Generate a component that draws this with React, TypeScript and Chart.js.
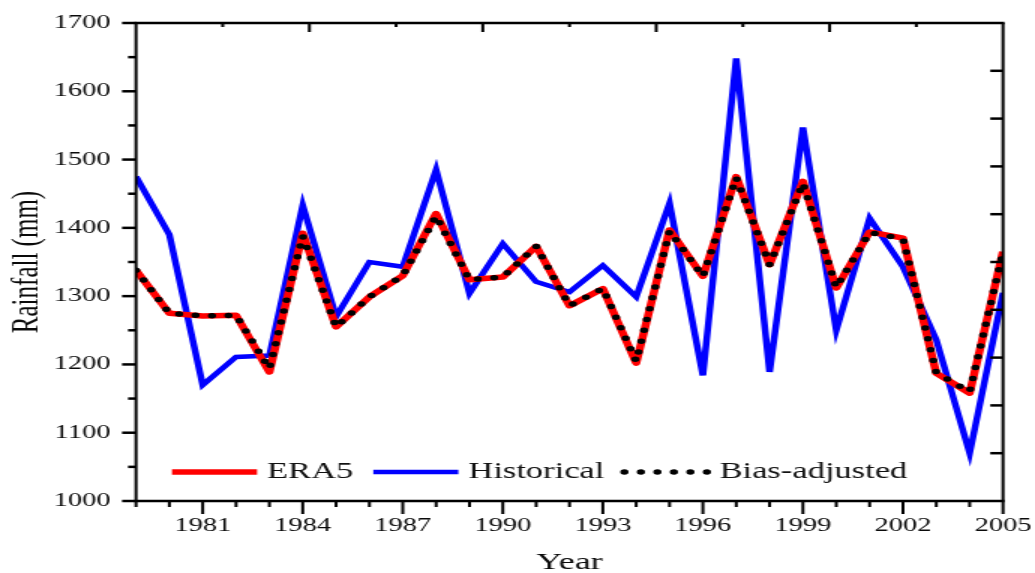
import React, { useEffect, useRef } from 'react';
import { Chart, registerables } from 'chart.js';

Chart.register(...registerables);

// ---------- data ----------
const years = [
  1979, 1980, 1981, 1982, 1983, 1984, 1985, 1986, 1987, 1988, 1989, 1990, 1991, 1992,
  1993, 1994, 1995, 1996, 1997, 1998, 1999, 2000, 2001, 2002, 2003, 2004, 2005,
];
const era5 = [
  1338, 1275, 1271, 1272, 1189, 1392, 1255, 1299, 1330, 1421, 1324, 1328, 1373, 1286,
  1311, 1202, 1397, 1329, 1475, 1346, 1468, 1312, 1394, 1385, 1187, 1158, 1365,
];
const historical = [
  1475, 1390, 1170, 1211, 1213, 1433, 1270, 1350, 1343, 1485, 1304, 1377, 1321, 1306,
  1345, 1299, 1436, 1184, 1648, 1189, 1547, 1250, 1414, 1343, 1236, 1070, 1305,
];
const biasAdjusted = [
  1338, 1275, 1271, 1272, 1194, 1388, 1255, 1299, 1330, 1417, 1324, 1328, 1373, 1286,
  1311, 1205, 1395, 1329, 1473, 1346, 1465, 1313, 1393, 1384, 1188, 1160, 1364,
];
const xTickYears = [1981, 1984, 1987, 1990, 1993, 1996, 1999, 2002, 2005];
const xMin = 1979;
const xMax = 2005;
const yMin = 1000;
const yMax = 1700;
const yStep = 100;
const yMinorStep = 50;
const topTickCount = 10; // top mirror axis divided in 10 parts
const rightTickStep = 70; // right mirror axis ticks
const seriesNames = { era5: 'ERA5', historical: 'Historical', bias: 'Bias-adjusted' };
const xTitle = 'Year';
const yTitle = 'Rainfall (mm)';

// ---------- layout ----------
const W = 1035;
const H = 573;
const STRETCH = 1.5; // the reference figure is horizontally stretched
const CW = W / STRETCH;
const FONT = "'Liberation Serif', 'Times New Roman', serif";

const pts = (vals: number[]) => years.map((yr, i) => ({ x: yr, y: vals[i] }));

const zeroPad = (s: any) => {
  s.paddingTop = 0;
  s.paddingBottom = 0;
  s.paddingLeft = 0;
  s.paddingRight = 0;
};

const axesPlugin = {
  id: 'originAxes',
  afterDraw(chart: any) {
    const { ctx, chartArea: a, scales } = chart;
    const xs = scales.x;
    const ys = scales.y;
    const line = (x1: number, y1: number, x2: number, y2: number) => {
      ctx.beginPath();
      ctx.moveTo(x1, y1);
      ctx.lineTo(x2, y2);
      ctx.stroke();
    };
    ctx.save();
    ctx.strokeStyle = '#000';
    ctx.lineCap = 'butt';
    ctx.setLineDash([]);

    // bottom ticks (outward)
    ctx.lineWidth = 2;
    for (const yr of years) {
      const px = xs.getPixelForValue(yr);
      const len = xTickYears.includes(yr) ? 13 : 6;
      line(px, a.bottom, px, a.bottom + len);
    }
    // top ticks (inward)
    for (let k = 1; k < topTickCount; k++) {
      const v = xMin + ((xMax - xMin) * k) / topTickCount;
      const px = xs.getPixelForValue(v);
      const len = k % 2 === 0 ? 9 : 4;
      line(px, a.top, px, a.top + len);
    }
    // left ticks (outward)
    ctx.lineWidth = 2.5;
    for (let v = yMin; v <= yMax; v += yMinorStep) {
      const py = ys.getPixelForValue(v);
      const len = v % yStep === 0 ? 9.3 : 5.3;
      line(a.left - len, py, a.left, py);
    }
    // right ticks (inward)
    for (let v = yMin + rightTickStep; v < yMax; v += rightTickStep) {
      const py = ys.getPixelForValue(v);
      line(a.right - 8.5, py, a.right, py);
    }
    // frame
    ctx.lineWidth = 2.5;
    line(a.left - 1, a.top, a.right + 1, a.top);
    line(a.left - 1, a.bottom, a.right + 1, a.bottom);
    ctx.lineWidth = 2;
    line(a.left, a.top, a.left, a.bottom);
    line(a.right, a.top, a.right, a.bottom);

    // legend
    const order = [seriesNames.era5, seriesNames.historical, seriesNames.bias];
    const ly = 472;
    let lx = 172 / STRETCH;
    const lineLen = 56.7;
    ctx.font = `23px ${FONT}`;
    ctx.textBaseline = 'middle';
    ctx.textAlign = 'left';
    for (const name of order) {
      const ds = chart.data.datasets.find((d: any) => d.label === name);
      if (!ds) continue;
      ctx.save();
      ctx.strokeStyle = ds.borderColor;
      ctx.lineWidth = ds.borderWidth;
      ctx.lineCap = ds.borderCapStyle || 'butt';
      ctx.setLineDash(ds.borderDash || []);
      line(lx, ly, lx + lineLen, ly);
      ctx.restore();
      const tx = lx + lineLen + 6.7;
      ctx.fillStyle = '#111';
      ctx.fillText(name, tx, ly);
      lx = tx + ctx.measureText(name).width + 13.3;
    }
    ctx.restore();
  },
};

export default function App() {
  const canvasRef = useRef<HTMLCanvasElement | null>(null);

  useEffect(() => {
    const canvas = canvasRef.current;
    if (!canvas) return;
    const chart = new Chart(canvas, {
      type: 'line',
      data: {
        datasets: [
          {
            label: seriesNames.historical,
            data: pts(historical),
            borderColor: '#0000ff',
            backgroundColor: '#0000ff',
            borderWidth: 4.5,
            pointRadius: 0,
            borderJoinStyle: 'miter',
            tension: 0,
            order: 3,
          },
          {
            label: seriesNames.era5,
            data: pts(era5),
            borderColor: '#ff0000',
            backgroundColor: '#ff0000',
            borderWidth: 5.5,
            pointRadius: 0,
            borderJoinStyle: 'round',
            tension: 0,
            order: 2,
          },
          {
            label: seriesNames.bias,
            data: pts(biasAdjusted),
            borderColor: '#000000',
            backgroundColor: '#000000',
            borderWidth: 5.5,
            borderDash: [0, 11],
            borderCapStyle: 'round',
            pointRadius: 0,
            tension: 0,
            order: 1,
          },
        ] as any,
      },
      options: {
        responsive: false,
        animation: false,
        events: [],
        layout: { padding: { top: 23, right: (W - 1003) / STRETCH, left: 0, bottom: 0 } },
        plugins: { legend: { display: false }, tooltip: { enabled: false } },
        scales: {
          x: {
            type: 'linear',
            min: xMin,
            max: xMax,
            afterBuildTicks: (s: any) => {
              s.ticks = xTickYears.map((v) => ({ value: v }));
            },
            afterFit: (s: any) => {
              s.height = H - 501;
              zeroPad(s);
            },
            ticks: {
              callback: (v: any) => String(v),
              font: { family: FONT, size: 19 },
              color: '#0a0a0a',
              padding: 14,
              maxRotation: 0,
              autoSkip: false,
            },
            grid: { display: false, drawTicks: false },
            border: { display: false },
            title: {
              display: true,
              text: xTitle,
              font: { family: FONT, size: 24 },
              color: '#0a0a0a',
              padding: { top: 0, bottom: -4 },
            },
          },
          y: {
            type: 'linear',
            min: yMin,
            max: yMax,
            afterFit: (s: any) => {
              s.width = 136 / STRETCH;
              zeroPad(s);
            },
            ticks: {
              stepSize: yStep,
              callback: (v: any) => String(v),
              font: { family: FONT, size: 19 },
              color: '#0a0a0a',
              padding: 17,
            },
            grid: { display: false, drawTicks: false },
            border: { display: false },
            title: {
              display: true,
              text: yTitle,
              font: { family: FONT, size: 25 },
              color: '#0a0a0a',
              padding: { top: 3.5, bottom: 0 },
            },
          },
        },
      } as any,
      plugins: [axesPlugin],
    });
    return () => chart.destroy();
  }, []);

  return (
    <div
      style={{
        position: 'fixed',
        left: 0,
        top: 0,
        width: W,
        height: H,
        overflow: 'hidden',
        background: '#fff',
      }}
    >
      <div style={{ width: CW, height: H, transform: `scaleX(${STRETCH})`, transformOrigin: '0 0' }}>
        <canvas ref={canvasRef} width={CW} height={H} style={{ display: 'block' }} />
      </div>
    </div>
  );
}
